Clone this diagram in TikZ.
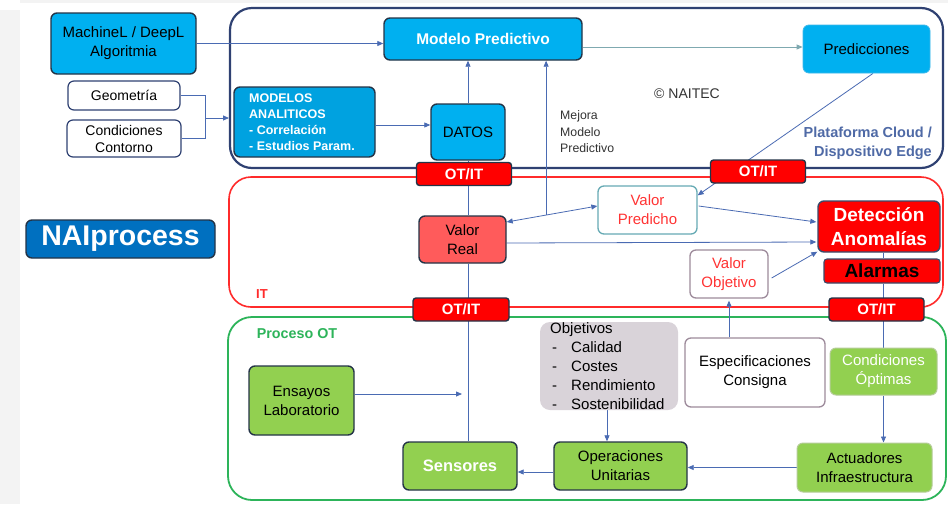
\documentclass[tikz,border=0pt]{standalone}
\usepackage{fontspec}
\setmainfont{Liberation Sans}
\usetikzlibrary{arrows.meta,calc}
\definecolor{cyanb}{HTML}{00B0F0}
\definecolor{cyand}{HTML}{00A2E0}
\definecolor{naiblue}{HTML}{0070C0}
\definecolor{bdark}{HTML}{243447}
\definecolor{navy}{HTML}{2F4172}
\definecolor{conn}{HTML}{4A6BB3}
\definecolor{connteal}{HTML}{7FA9B0}
\definecolor{redc}{HTML}{FF2B2B}
\definecolor{greenc}{HTML}{2DB45A}
\definecolor{greenf}{HTML}{92D050}
\definecolor{valreal}{HTML}{FF5B5B}
\definecolor{tealb}{HTML}{66AAB4}
\definecolor{mauveb}{HTML}{9D8B9B}
\definecolor{objf}{HTML}{D9D3D9}
\definecolor{platc}{HTML}{4F6AA6}
\definecolor{lightgr}{HTML}{F3F3F3}
\definecolor{txtred}{HTML}{FF3333}
\definecolor{naitecc}{HTML}{333333}
\definecolor{lightbd}{HTML}{B5CC98}
\definecolor{predbd}{HTML}{3DB8EA}
\definecolor{alarmbd}{HTML}{3A4A6A}
\newcommand\fsz[2]{\fontsize{#1}{#2}\selectfont}
\pgfdeclarelayer{bg}\pgfdeclarelayer{mid}\pgfsetlayers{bg,mid,main}
\tikzset{
  box/.style={draw=bdark, line width=1.4pt, rounded corners=6pt, inner sep=0pt, align=center, text=black, font=\fsz{15}{19}},
  arr/.style={draw=conn, line width=0.8pt, -{Triangle[length=6pt,width=5pt]}},
  ln/.style={draw=conn, line width=0.8pt},
  otit/.style={box, fill=red, minimum width=95pt, minimum height=23pt, rounded corners=3pt, font=\bfseries\fsz{15}{18}, text=white},
  lbl/.style={inner sep=0pt, font=\fsz{15}{19}, text=black},
}
\begin{document}
\begin{tikzpicture}[x=1pt,y=-1pt]
\useasboundingbox (0,0) rectangle (948,504);
\begin{pgfonlayer}{bg}
\fill[white] (0,0) rectangle (948,504);
\fill[lightgr] (0,10) rectangle (20,504);
\fill[lightgr] (20,0) rectangle (948,3);
\draw[navy, line width=2.2pt, rounded corners=22pt] (230,8) rectangle (943,168);
\draw[redc, line width=1.6pt, rounded corners=22pt] (229,177) rectangle (943,307);
\draw[greenc, line width=1.8pt, rounded corners=24pt] (228,317) rectangle (946,500);
\end{pgfonlayer}

% top area
\node[box, fill=cyanb, minimum width=145pt, minimum height=61pt] (ml) at (123.5,43.5) {MachineL / DeepL\\Algoritmia};
\node[box, draw=navy, line width=1.2pt, fill=white, minimum width=112pt, minimum height=29pt, font=\fsz{14}{17}] (geo) at (124,95.5) {Geometría};
\node[box, draw=navy, line width=1.2pt, fill=white, minimum width=114pt, minimum height=37pt, font=\fsz{14}{17}] (cc) at (124,138.5) {Condiciones\\Contorno};
\node[box, fill=cyand, minimum width=141pt, minimum height=70pt] (ma) at (304.5,122) {};
\node[inner sep=0pt, anchor=west, align=left, font=\bfseries\fsz{12.5}{16}, text=white] (matext) at (249,122) {MODELOS\\ANALITICOS\\- Correlación\\- Estudios Param.};
\node[box, fill=cyanb, minimum width=198pt, minimum height=42pt, font=\bfseries\fsz{15.5}{19}, text=white] (mp) at (483,39) {Modelo Predictivo};
\node[box, fill=cyanb, draw=predbd, line width=0.8pt, minimum width=127pt, minimum height=48pt] (pred) at (866.5,49) {Predicciones};
\node[box, fill=cyanb, minimum width=74pt, minimum height=56pt] (datos) at (468,132) {DATOS};
\node[inner sep=0pt, font=\fsz{14}{17}, text=naitecc] (naitec) at (687,94) {© NAITEC};
\node[inner sep=0pt, anchor=west, align=left, font=\fsz{12.3}{16.5}, text=naitecc] (mejora) at (560,132) {Mejora\\Modelo\\Predictivo};
\node[inner sep=0pt, anchor=east, align=right, font=\bfseries\fsz{14.5}{19}, text=platc] (plat) at (932,143) {Plataforma Cloud /\\Dispositivo Edge};

% OT/IT
\node[otit] (ot1) at (464,174) {OT/IT};
\node[otit] (ot2) at (758,171.5) {OT/IT};
\node[otit, minimum width=96pt] (ot3) at (461,309.5) {OT/IT};
\node[otit] (ot4) at (876.5,309.5) {OT/IT};

% IT area
\node[box, fill=naiblue, minimum width=189pt, minimum height=38pt, font=\bfseries\fsz{28.5}{31}, text=white] (nai) at (120.5,239) {NAIprocess};
\node[box, fill=valreal, minimum width=87pt, minimum height=47pt] (vr) at (462.5,239.5) {Valor\\Real};
\node[box, fill=white, draw=tealb, line width=1.3pt, minimum width=99pt, minimum height=48pt, text=txtred] (vp) at (647.5,210) {Valor\\Predicho};
\node[box, fill=white, draw=mauveb, line width=1.3pt, minimum width=78pt, minimum height=48pt, text=txtred] (vo) at (729,274) {Valor\\Objetivo};
\node[box, fill=red, draw=alarmbd, minimum width=122pt, minimum height=51pt, font=\bfseries\fsz{19}{24}, text=white] (det) at (879,226.5) {Detección\\Anomalías};
\node[box, fill=red, draw=alarmbd, line width=1.1pt, minimum width=116pt, minimum height=24pt, rounded corners=3pt, font=\bfseries\fsz{19}{22}] (alarm) at (882,271) {Alarmas};
\node[inner sep=0pt, font=\bfseries\fsz{13}{15}, text=redc] (itl) at (262,294) {IT};

% OT area
\node[inner sep=0pt, font=\bfseries\fsz{14.3}{17}, text=greenc] (potl) at (297,334) {Proceso OT};
\node[fill=objf, rounded corners=10pt, minimum width=138pt, minimum height=88pt, inner sep=0pt] (obj) at (609,366) {};
\node[lbl, anchor=base west] (o0) at (550,333) {Objetivos};
\foreach \t [count=\i] in {Calidad,Costes,Rendimiento,Sostenibilidad} {
  \node[lbl, anchor=base west] (od\i) at (552,333+19*\i) {-};
  \node[lbl, anchor=base west] (ot\i) at (571,333+19*\i) {\t};
}
\node[box, fill=white, draw=mauveb, line width=1.3pt, minimum width=140pt, minimum height=69pt] (esp) at (755,372.5) {Especificaciones\\Consigna};
\node[box, fill=greenf, draw=lightbd, line width=1pt, minimum width=107pt, minimum height=47pt, text=white] (co) at (883.5,371.5) {Condiciones\\Óptimas};
\node[box, fill=greenf, minimum width=105pt, minimum height=69pt] (ens) at (301.5,400.5) {Ensayos\\Laboratorio};
\node[box, fill=greenf, minimum width=114pt, minimum height=48pt, font=\bfseries\fsz{16.5}{19}, text=white] (sen) at (460,466) {Sensores};
\node[box, fill=greenf, minimum width=133pt, minimum height=48pt] (ou) at (620.5,466) {Operaciones\\Unitarias};
\node[box, fill=greenf, draw=lightbd, line width=1pt, minimum width=135pt, minimum height=49pt] (act) at (864.5,467.5) {Actuadores\\Infraestructura};

% connectors
\coordinate (brk) at (205,118);
\coordinate (brkend) at (229,118);
\coordinate (ensend) at (462,394);
\begin{pgfonlayer}{mid}
\draw[arr] (ml.east) -- (mp.west |- ml.east);
\draw[ln] (geo.east) -- (brk |- geo.east) -- (brk |- cc.east) -- (cc.east);
\draw[arr] (brk) -- (brkend);
\draw[arr] (ma.east |- 0,125) -- (datos.west |- 0,125);
\draw[arr] (datos.north) -- (datos.north |- mp.south);
\draw[arr, draw=connteal] (mp.east |- 0,47) -- (pred.west |- 0,47);
\draw[arr] ($(pred.south)+(6.5,0)$) -- ($(vp.north east)+(0,10)$);
\draw[conn, line width=0.8pt, {Triangle[length=6pt,width=5pt]}-{Triangle[length=6pt,width=5pt]}] ($(vr.east)+(0,-17.5)$) -- coordinate[pos=0.4348] (j1) ($(vp.west)+(0,-4)$);
\draw[arr] (j1) -- (j1 |- mp.south);
\draw[arr] ($(vp.east)+(1,-4)$) -- ($(det.west)+(-1,-4.5)$);
\draw[arr] ($(vr.east)+(0,3.5)$) -- ($(det.west)+(-1,15.5)$);
\draw[arr] ($(vo.east)+(3,4)$) -- ($(det.south west)+(0,-1)$);
\draw[arr] (esp.north -| vo.south) -- ($(vo.south)+(0,2)$);
\draw[ln] (datos.south) -- (datos.south |- vr.north);
\draw[ln] (vr.south -| datos.south) -- (datos.south |- sen.north);
\draw[arr] (ens.east |- ensend) -- (ensend);
\draw[ln] (co.north |- det.south) -- (co.north |- alarm.north);
\draw[ln] (co.north |- alarm.south) -- (co.north);
\draw[arr] (co.south) -- (co.south |- act.north);
\draw[arr] (act.west) -- (ou.east |- act.west);
\draw[arr] (obj.south -| 607,0) -- (ou.north -| 607,0);
\draw[arr] ($(ou.west)+(0,6)$) -- (sen.east |- {$(ou.west)+(0,6)$});
\end{pgfonlayer}
\end{tikzpicture}
\end{document}
